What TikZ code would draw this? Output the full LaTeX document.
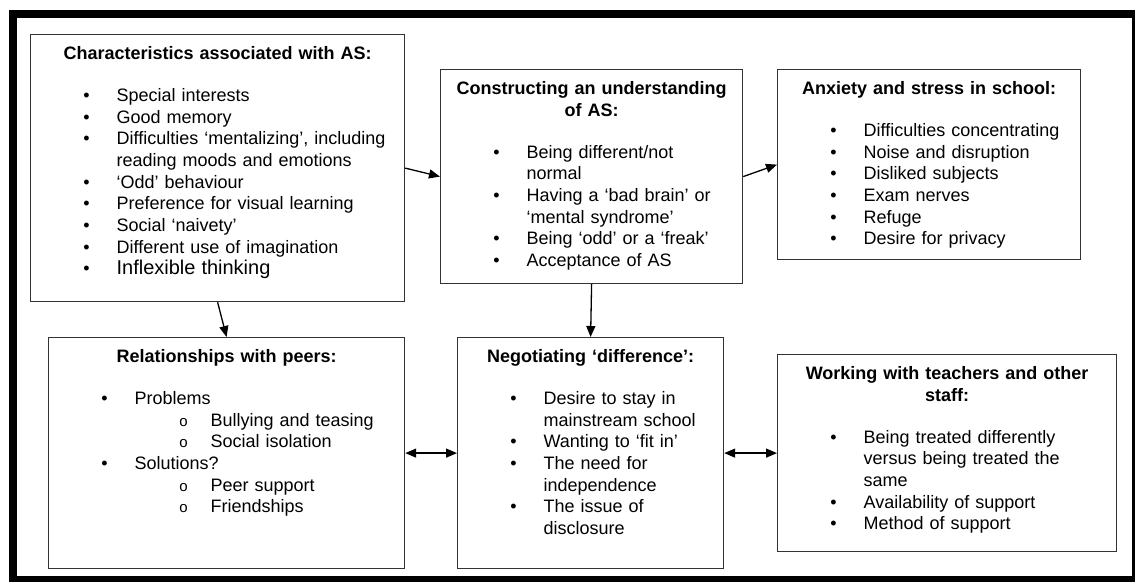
\documentclass[tikz,border=0pt]{standalone}
\usepackage{fontspec}
\setmainfont{Liberation Sans}
\usepackage{enumitem}
\usetikzlibrary{arrows.meta}
\setlist[itemize,1]{nosep,leftmargin=86pt,labelsep=27pt,label=\textbullet}
\setlist[itemize,2]{nosep,leftmargin=71pt,labelsep=23pt,label={\fontsize{15}{15}\selectfont o}}
\def\boxhead#1{{\centering\bfseries #1\par}\vspace{20pt}}

\begin{document}
\begin{tikzpicture}[x=1pt,y=-1pt,
  topic/.style={draw=black!80,line width=1.2pt,inner sep=0pt,anchor=north west,
    align=left,text height=25pt,font=\fontsize{18}{21.7}\selectfont},
  arr/.style={line width=1.3pt,-{Triangle[length=11pt,width=9pt]}},
  darr/.style={line width=1.3pt,{Triangle[length=11pt,width=9pt]}-{Triangle[length=11pt,width=9pt]}}]
\useasboundingbox (0,0) rectangle (1135,581);
\draw[line width=8pt] (13,13.5) rectangle (1136,580);
\node[topic,text width=374pt,text depth=242pt] (chars) at (30,34) {\boxhead{Characteristics associated with AS:}
\begin{itemize}
\item Special interests
\item Good memory
\item Difficulties ‘mentalizing’, including\newline reading moods and emotions
\item ‘Odd’ behaviour
\item Preference for visual learning
\item Social ‘naivety’
\item Different use of imagination
\item {\fontsize{20}{21.7}\selectfont Inflexible thinking}
\end{itemize}};
\node[topic,text width=302pt,text depth=189pt] (underst) at (440,69) {\boxhead{Constructing an understanding\\ of AS:}
\begin{itemize}
\item Being different/not\newline normal
\item Having a ‘bad brain’ or\newline ‘mental syndrome’
\item Being ‘odd’ or a ‘freak’
\item Acceptance of AS
\end{itemize}};
\node[topic,text width=303pt,text depth=165pt] (anxiety) at (777,69) {\boxhead{Anxiety and stress in school:}
\begin{itemize}
\item Difficulties concentrating
\item Noise and disruption
\item Disliked subjects
\item Exam nerves
\item Refuge
\item Desire for privacy
\end{itemize}};
\node[topic,text width=356pt,text depth=206pt] (peers) at (48,337) {\boxhead{Relationships with peers:}
\begin{itemize}
\item Problems
  \begin{itemize}
  \item Bullying and teasing
  \item Social isolation
  \end{itemize}
\item Solutions?
  \begin{itemize}
  \item Peer support
  \item Friendships
  \end{itemize}
\end{itemize}};
\node[topic,text width=266pt,text depth=206pt] (negot) at (457,337) {\boxhead{Negotiating ‘difference’:}
\begin{itemize}
\item Desire to stay in\newline mainstream school
\item Wanting to ‘fit in’
\item The need for\newline independence
\item The issue of\newline disclosure
\end{itemize}};
\node[topic,text width=339pt,text depth=172pt] (staff) at (777,354) {\boxhead{Working with teachers and other\\ staff:}
\begin{itemize}
\item Being treated differently\newline versus being treated the\newline same
\item Availability of support
\item Method of support
\end{itemize}};
\draw[arr] (chars.east) -- (underst.west);
\draw[arr] (underst.east) -- (anxiety.west);
\draw[arr] (underst.south) -- (negot.north);
\draw[arr] (chars.south) -- (peers.north);
\draw[darr] (peers.east) -- (negot.west);
\draw[darr] (negot.east) -- (staff.west);
\end{tikzpicture}
\end{document}
